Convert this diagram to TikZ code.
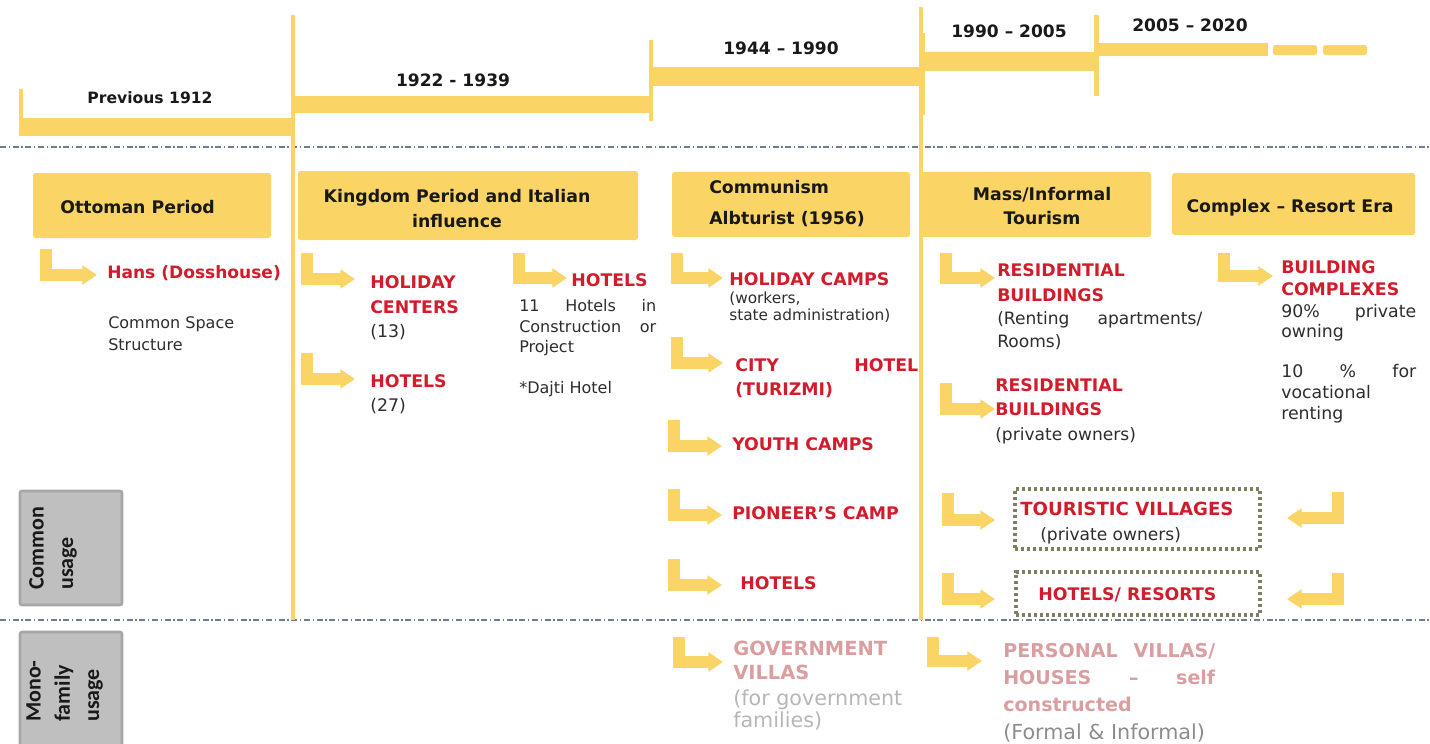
\documentclass[tikz,border=0pt]{standalone}
\usepackage{fontspec}
\setmainfont{DejaVu Sans}
\newfontfamily\calfont{Carlito}
\usetikzlibrary{arrows.meta,fit}
\definecolor{ylw}{RGB}{250,212,100}
\definecolor{redc}{RGB}{210,28,44}
\definecolor{palec}{RGB}{219,158,160}
\definecolor{lgray}{RGB}{182,182,182}
\definecolor{mgray}{RGB}{140,140,140}
\definecolor{headc}{RGB}{25,25,25}
\definecolor{bodyc}{RGB}{45,45,45}
\definecolor{dotc}{RGB}{128,126,98}
\definecolor{gfill}{RGB}{191,191,191}
\definecolor{gline}{RGB}{166,166,166}
\definecolor{sepc}{RGB}{110,125,150}
\newcommand{\myb}[2]{\fontsize{#1}{#2}\selectfont\bfseries}
\newcommand{\myr}[2]{\fontsize{#1}{#2}\selectfont}
\newcommand{\jst}[2]{\hbox to #1{#2}}
\tikzset{
  tx/.style={inner sep=0pt, anchor=north west, align=left},
  rtxt/.style={tx, text=redc, font=\myb{13}{18.5}},
  btxt/.style={tx, text=bodyc, font=\myr{12}{16.5}},
  ctxt/.style={tx, text=bodyc, font=\myr{12.8}{17.25}},
  htxt/.style={inner sep=0pt, text=headc, font=\myb{13}{18.75}},
  ytxt/.style={inner sep=0pt, text=headc, font=\myb{12.8}{15}},
  hbox/.style={fill=ylw, draw=none, rounded corners=2pt, inner sep=0pt},
  gbox/.style={fill=gfill, draw=gline, line width=2pt, rounded corners=1.5pt, inner sep=0pt},
  gtxt/.style={inner sep=0pt, rotate=90, anchor=north west, align=left, text=headc, font=\calfont\fontsize{16.5}{22}\selectfont\bfseries},
  dotbox/.style={draw=dotc, line width=2.6pt, dash pattern=on 2.4pt off 2.1pt, inner sep=0pt},
  larrow/.style={draw=ylw, line width=8.4pt, -{Triangle[length=11pt,width=14pt]}},
  sep/.style={draw=sepc, line width=0.8pt, dash pattern=on 4.5pt off 2pt on 1pt off 2pt},
  tbar/.style={fill=ylw, draw=none}
}
\begin{document}
\begin{tikzpicture}[x=0.75pt,y=-0.75pt]
\useasboundingbox (0,0) rectangle (1430,743);
% separators
\draw[sep] (0,147) -- (1430,147);
\draw[sep] (0,620) -- (1430,620);
% timeline
\fill[tbar] (19,89) rectangle (23,136);
\fill[tbar] (20,118) rectangle (293,136);
\fill[tbar] (291,15) rectangle (295,620);
\fill[tbar] (293,96) rectangle (650,113);
\fill[tbar] (649,40) rectangle (653,121);
\fill[tbar] (652,67) rectangle (921,86);
\fill[tbar] (919,7) rectangle (923,620);
\fill[tbar] (921,33) rectangle (925,115);
\fill[tbar] (921,52) rectangle (1098,71);
\fill[tbar] (1094,15) rectangle (1099,96);
\fill[tbar] (1098,43) rectangle (1268,56);
\fill[tbar, rounded corners=2pt] (1273,45) rectangle (1317,55);
\fill[tbar, rounded corners=2pt] (1323,45) rectangle (1367,55);
\node[ytxt, font=\myb{11.7}{14}] (y1) at (150,98) {Previous 1912};
\node[ytxt] (y2) at (453,80) {1922 - 1939};
\node[ytxt] (y3) at (781,48) {1944 – 1990};
\node[ytxt] (y4) at (1009,31) {1990 – 2005};
\node[ytxt] (y5) at (1190,25) {2005 – 2020};
% header boxes
\node[hbox, fit={(33,173) (271,238)}] (bott) {};
\node[htxt, anchor=west] (tott) at (60,207) {Ottoman Period};
\node[hbox, fit={(298,171) (638,240)}] (bking) {};
\node[htxt, align=center] (tking) at (457,208.5) {Kingdom Period and Italian\\influence};
\node[hbox, fit={(672,172) (910,237)}] (bcom) {};
\node[htxt, tx, font=\myb{13}{23.25}] (tcom) at (709,180.5) {Communism\\Albturist (1956)};
\node[hbox, fit={(921,172) (1151,237)}] (bmass) {};
\node[htxt, align=center, font=\myb{13}{18}] (tmass) at (1042,206) {Mass/Informal\\Tourism};
\node[hbox, fit={(1172,173) (1415,235)}] (bcomp) {};
\node[htxt, anchor=base] (tcomp) at (1290,212.3) {Complex – Resort Era};
% arrows
\draw[larrow] (46,249) |- (97,275);
\draw[larrow] (307,253) |- (355,279);
\draw[larrow] (307,353) |- (355,379);
\draw[larrow] (519,253) |- (567,278);
\draw[larrow] (677,253) |- (723,278);
\draw[larrow] (677,337) |- (723,363);
\draw[larrow] (674,420) |- (722,446);
\draw[larrow] (674,489) |- (722,515);
\draw[larrow] (674,559) |- (722,585);
\draw[larrow] (679,637) |- (723,662);
\draw[larrow] (946,253) |- (995,278);
\draw[larrow] (946,383) |- (995,409);
\draw[larrow] (1224,253) |- (1273,276);
\draw[larrow] (948,493) |- (995,520);
\draw[larrow] (948,573) |- (995,599);
\draw[larrow] (1338,492) |- (1287,518);
\draw[larrow] (1338,573) |- (1287,599);
\draw[larrow] (933,637) |- (982,661);
% Ottoman column
\node[rtxt, font=\myb{12.8}{18}] (hans) at (107,265.5) {Hans (Dosshouse)};
\node[btxt] (css) at (108,316.2) {Common Space\\Structure};
% Kingdom column
\node[rtxt, font=\myb{13}{18.4}] (hcent) at (370,275.7) {HOLIDAY\\CENTERS\\{\mdseries\color{bodyc}(13)}};
\node[rtxt, font=\myb{13}{18}] (hot27) at (370,374.7) {HOTELS\\{\mdseries\color{bodyc}(27)}};
\node[rtxt] (hotk) at (571,273.7) {HOTELS};
\node[btxt, font=\myr{12}{15.4}] (h11) at (519,299.2) {\jst{102.75pt}{11\hfill Hotels\hfill in}\\\jst{102.75pt}{Construction\hfill or}\\Project};
\node[btxt] (dajti) at (519,381.2) {*Dajti Hotel};
% Communism column
\node[rtxt] (camps) at (729,272.7) {HOLIDAY CAMPS};
\node[btxt, font=\myr{11.5}{12.75}] (workers) at (729,291.5) {(workers,\\state administration)};
\node[rtxt, font=\myb{13}{18}] (city) at (735,358.7) {\jst{137.25pt}{CITY\hfill HOTEL}\\(TURIZMI)};
\node[rtxt] (youth) at (732,437.7) {YOUTH CAMPS};
\node[rtxt] (pion) at (732,506.7) {PIONEER’S CAMP};
\node[rtxt] (hot3) at (740,576.7) {HOTELS};
\node[rtxt, text=palec, font=\myb{14.6}{18}] (gov) at (733,640.9) {GOVERNMENT\\VILLAS};
\node[btxt, text=lgray, font=\myr{15.5}{16.5}] (govs) at (733,689.5) {(for government\\families)};
% Mass column
\node[rtxt, font=\myb{13}{18.75}] (res1) at (997,263.7) {RESIDENTIAL\\BUILDINGS};
\node[ctxt] (res1s) at (997,311.7) {\jst{153.75pt}{(Renting\hfill apartments/}\\Rooms)};
\node[rtxt, font=\myb{13}{18}] (res2) at (995,378.7) {RESIDENTIAL\\BUILDINGS};
\node[ctxt] (res2s) at (995,427.7) {(private owners)};
% Complex column
\node[rtxt, font=\myb{13}{16.5}] (bc) at (1281,260.7) {BUILDING\\COMPLEXES};
\node[ctxt, font=\myr{13}{15}] (bc1) at (1281,304.5) {\jst{101.25pt}{90\%\hfill private}\\owning};
\node[ctxt, font=\myr{13}{15.75}] (bc2) at (1281,364.5) {\jst{101.25pt}{10\hfill\%\hfill for}\\vocational\\renting};
% common-use boxes
\node[dotbox, fit={(1015,489) (1260,549)}] (tvbox) {};
\node[rtxt, font=\myb{13.6}{18}] (tv) at (1020,501.4) {TOURISTIC VILLAGES};
\node[ctxt] (tvs) at (1040,527.7) {(private owners)};
\node[dotbox, fit={(1016,572) (1260,615)}] (hrbox) {};
\node[rtxt] (hr) at (1038,587.7) {HOTELS/ RESORTS};
% mono-family
\node[rtxt, text=palec, font=\myb{14.3}{20.25}] (pers) at (1003,643) {\jst{159pt}{PERSONAL\hfill VILLAS/}\\\jst{159pt}{HOUSES\hfill –\hfill self}\\constructed};
\node[btxt, text=mgray, font=\myr{15.5}{18}] (persf) at (1003,723.5) {(Formal \& Informal)};
% side labels
\node[gbox, fit={(20,491) (122,605)}] (gb1) {};
\node[gtxt] (gt1) at (29,590) {Common\\usage};
\node[gbox, fit={(20,632) (122,760)}] (gb2) {};
\node[gtxt] (gt2) at (26,722) {Mono-\\family\\usage};
\end{tikzpicture}
\end{document}
